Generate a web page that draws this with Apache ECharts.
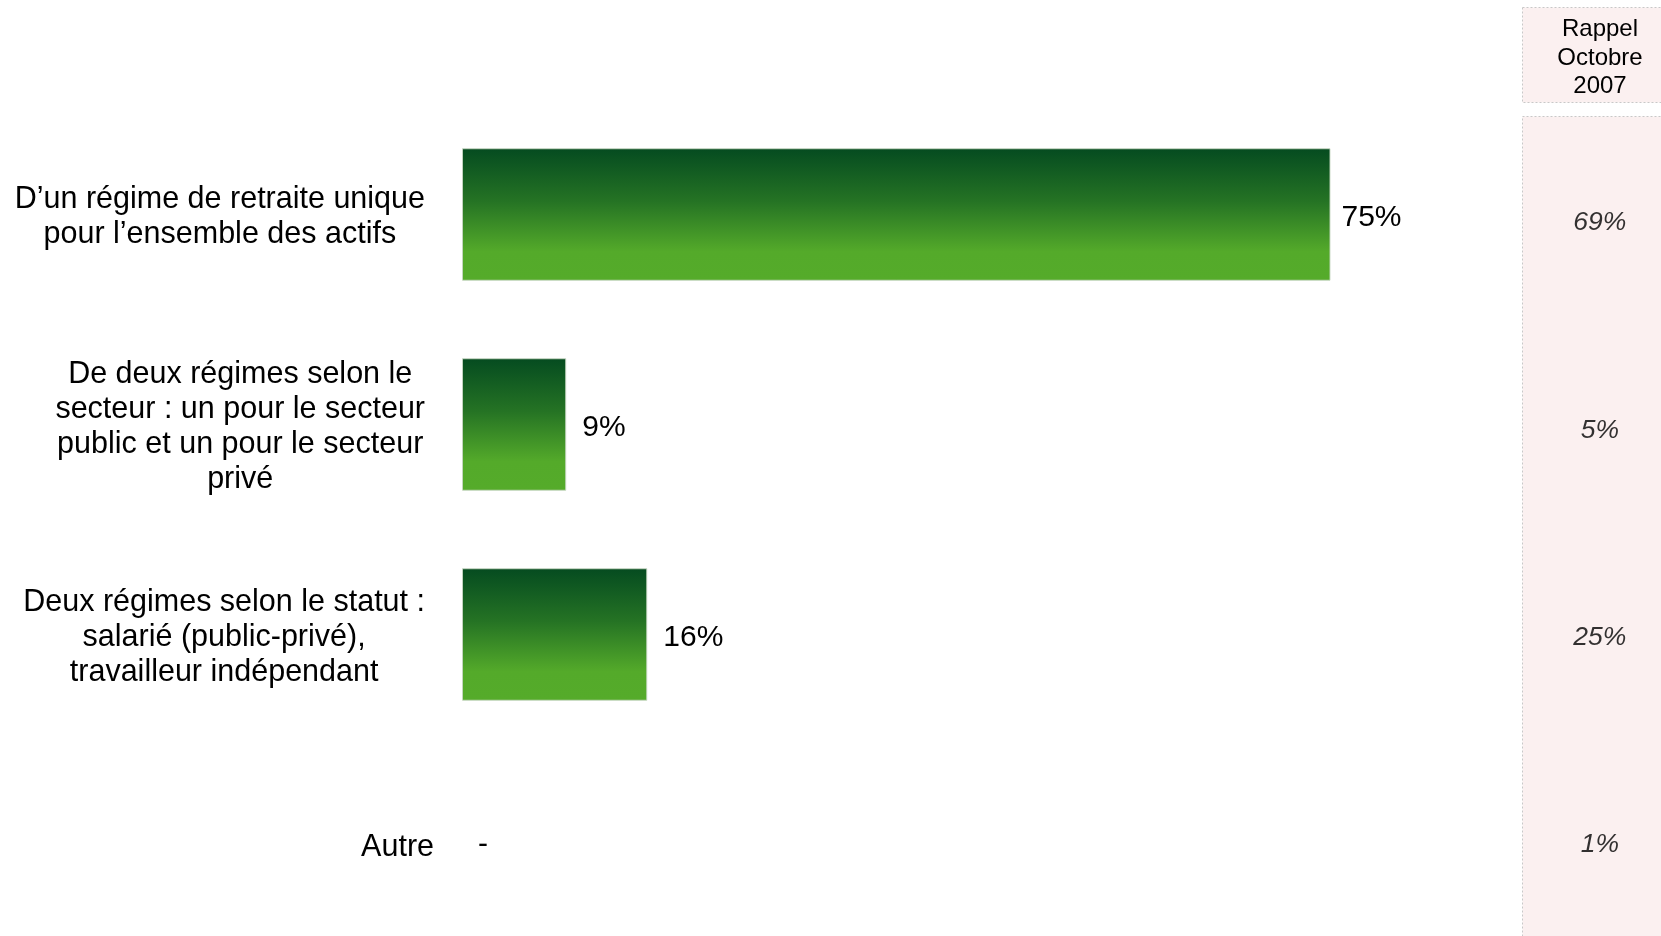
<!DOCTYPE html>
<html>
<head>
<meta charset="utf-8">
<script src="https://cdn.jsdelivr.net/npm/echarts@6/dist/echarts.min.js"></script>
<style>html,body{margin:0;padding:0;background:#fff;}#chart{width:1661px;height:936px;}</style>
</head>
<body>
<div id="chart"></div>
<script>
const categories = [
  "D\u2019un régime de retraite unique\npour l\u2019ensemble des actifs",
  "De deux régimes selon le\nsecteur : un pour le secteur\npublic et un pour le secteur\nprivé",
  "Deux régimes selon le statut :\nsalarié (public-privé),\ntravailleur indépendant",
  "Autre"
];
const currentValues = [75, 9, 16, '-'];
const rappelValues = [69, 5, 25, 1];
const rappelHeader = "Rappel\nOctobre\n2007";

const FONT = '"Liberation Sans", Arial, sans-serif';
const chart = echarts.init(document.getElementById('chart'));

const barData = currentValues.map((v, i) => {
  if (v === '-') return { value: 0, itemStyle: { borderWidth: 0 }, label: { formatter: '-', offset: [0, 0] } };
  if (i === 0) return { value: v, label: { distance: 11 } };
  return v;
});

chart.setOption({
  animation: false,
  grid: [
    { left: 462, top: 214.5, width: 1158, height: 630, containLabel: false },
    { left: 1522, top: 223, width: 139, height: 622, containLabel: false }
  ],
  xAxis: [
    { gridIndex: 0, type: 'value', min: 0, max: 100, show: false },
    { gridIndex: 1, type: 'value', min: 0, max: 1, show: false }
  ],
  yAxis: [
    {
      gridIndex: 0, type: 'category', inverse: true, boundaryGap: false, data: categories,
      axisLine: { show: false }, axisTick: { show: false }, splitLine: { show: false },
      axisLabel: {
        margin: 28, fontSize: 30.5, fontFamily: FONT, color: '#000', lineHeight: 35,
        padding: [6, 0, 0, 0],
        formatter: v => {
          const lines = v.split('\n');
          if (lines.length === 1) return '{a|' + v + '}';
          return lines.map(l => '{c|' + l + '}').join('\n');
        },
        rich: {
          c: { align: 'center', fontSize: 30.5, fontFamily: FONT, color: '#000', lineHeight: 35, padding: [0, 9, 0, 0] },
          a: { fontSize: 30.5, fontFamily: FONT, color: '#000', lineHeight: 35 }
        }
      }
    },
    {
      gridIndex: 1, type: 'category', inverse: true, boundaryGap: false, data: categories, show: false
    }
  ],
  graphic: [
    { type: 'rect', shape: { x: 1522.5, y: 7.5, width: 150, height: 95 },
      style: { fill: '#FBF0F0', stroke: '#c8c8c8', lineWidth: 1, lineDash: [2, 2] }, z: -10 },
    { type: 'rect', shape: { x: 1522.5, y: 116.5, width: 150, height: 840 },
      style: { fill: '#FBF0F0', stroke: '#c8c8c8', lineWidth: 1, lineDash: [2, 2] }, z: -10 },
    { type: 'text', x: 1600, y: 58,
      style: { text: rappelHeader, fontSize: 24, fontFamily: FONT, fill: '#000', lineHeight: 28.5,
               align: 'center', verticalAlign: 'middle' } }
  ],
  series: [
    {
      type: 'bar', xAxisIndex: 0, yAxisIndex: 0, data: barData, barWidth: 132.5, clip: false,
      itemStyle: {
        color: new echarts.graphic.LinearGradient(0, 0, 0, 1, [
          { offset: 0, color: '#054B20' },
          { offset: 0.4, color: '#257324' },
          { offset: 0.78, color: '#54AA2A' },
          { offset: 1, color: '#55AB2A' }
        ]),
        borderColor: 'rgba(200,215,195,0.9)', borderWidth: 1
      },
      label: {
        show: true, position: 'right', distance: 16, fontSize: 30, fontFamily: FONT, color: '#000',
        offset: [0, 3],
        formatter: p => p.value + '%'
      }
    },
    {
      type: 'scatter', xAxisIndex: 1, yAxisIndex: 1, symbolSize: 0, clip: false,
      data: rappelValues.map((v, i) => [0.56, i, v]),
      label: {
        show: true, position: 'inside', fontSize: 26.5, fontStyle: 'italic', fontFamily: FONT, color: '#000',
        formatter: p => p.value[2] + '%'
      }
    }
  ]
});
</script>
</body>
</html>
